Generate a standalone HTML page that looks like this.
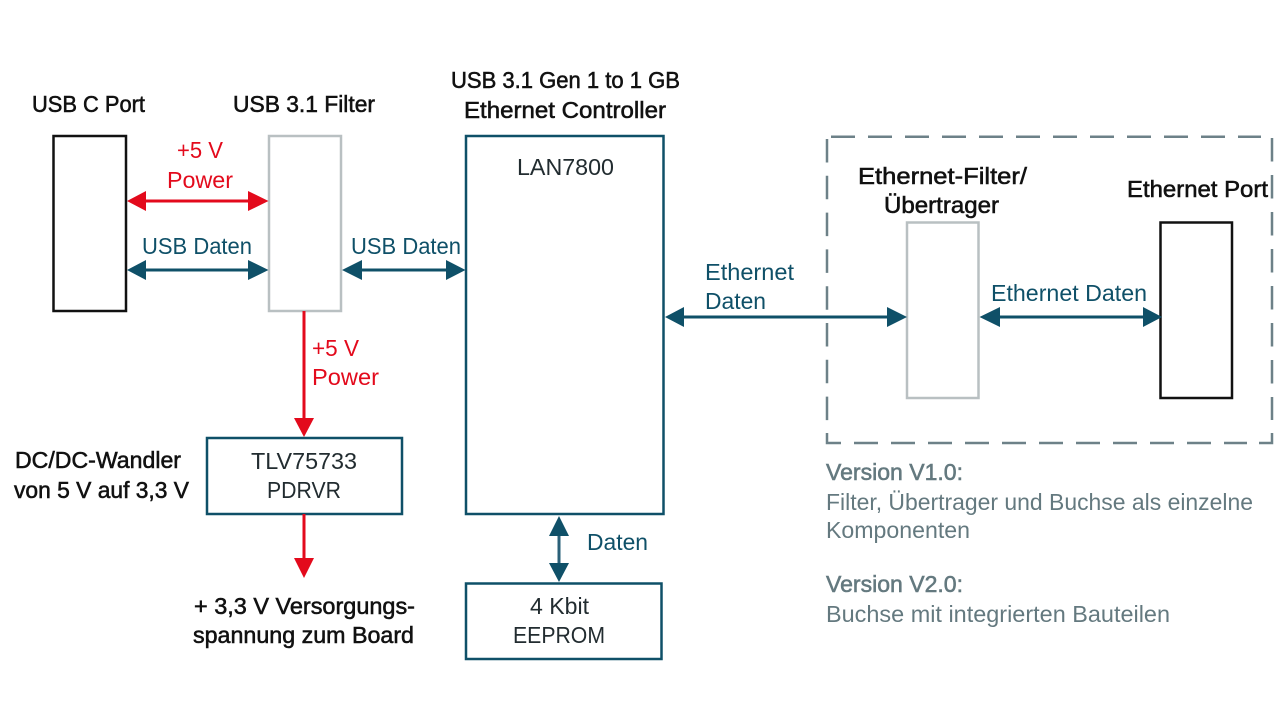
<!DOCTYPE html>
<html>
<head>
<meta charset="utf-8">
<style>
html,body{margin:0;padding:0;background:#fff;width:1280px;height:721px;overflow:hidden}
svg{display:block}
text{font-family:"Liberation Sans",sans-serif;font-size:23px}
.b{fill:#111;stroke:#111;stroke-width:.55px}
.t{fill:#0f5068}
.r{fill:#e30a1c}
.k{fill:#222c30}
.g{fill:#64797f}
.gb{fill:#64797f;stroke:#64797f;stroke-width:.55px}
</style>
</head>
<body>
<svg width="1280" height="721" viewBox="0 0 1280 721" xmlns="http://www.w3.org/2000/svg">
<rect width="1280" height="721" fill="#fff"/>

<!-- boxes -->
<rect x="53.500" y="136" width="72.500" height="175" fill="none" stroke="#111" stroke-width="2.500"/>
<rect x="269" y="136" width="72" height="175" fill="none" stroke="#b9c0c2" stroke-width="2.500"/>
<rect x="466" y="136" width="197.500" height="378" fill="none" stroke="#0f5068" stroke-width="2.500"/>
<rect x="207" y="438" width="195" height="76" fill="none" stroke="#0f5068" stroke-width="2.500"/>
<rect x="466" y="583.500" width="195.500" height="75.500" fill="none" stroke="#0f5068" stroke-width="2.500"/>
<rect x="907" y="222.500" width="71.500" height="175.500" fill="none" stroke="#b9c0c2" stroke-width="2.500"/>
<rect x="1160.500" y="222.500" width="71.500" height="175.500" fill="none" stroke="#111" stroke-width="2.500"/>

<!-- dashed group -->
<g fill="none" stroke="#6d8188" stroke-width="2.500">
<path d="M831 136.800H1261" stroke-dasharray="24 13"/>
<path d="M827 139V421" stroke-dasharray="23.500 13.300"/>
<path d="M1272 138V420" stroke-dasharray="23.500 13.500"/>
<path d="M854 443H1247" stroke-dasharray="24 13"/>
<path d="M827 433V443H841"/>
<path d="M1259 443H1272V433"/>
</g>

<!-- red connectors -->
<path d="M140 201H256" stroke="#e30a1c" stroke-width="3"/>
<path d="M127 201L146 191V211Z M268.500 201L248 191V211Z" fill="#e30a1c"/>
<path d="M304 311V425" stroke="#e30a1c" stroke-width="3"/>
<path d="M304 437L294 418H314Z" fill="#e30a1c"/>
<path d="M304 514V565" stroke="#e30a1c" stroke-width="3"/>
<path d="M304 578L294 558H314Z" fill="#e30a1c"/>

<!-- teal connectors -->
<g fill="#0f5068">
<path d="M140 270H256" stroke="#0f5068" stroke-width="3"/>
<path d="M127 270L146 260V280Z M268.500 270L248 260V280Z"/>
<path d="M354 270H453" stroke="#0f5068" stroke-width="3"/>
<path d="M342 270L362 260V280Z M465.500 270L446 260V280Z"/>
<path d="M678 317H893" stroke="#0f5068" stroke-width="3"/>
<path d="M665 317L684 307V327Z M907 317L887 307V327Z"/>
<path d="M992 317H1148" stroke="#0f5068" stroke-width="3"/>
<path d="M979.500 317L1000 307V327Z M1162 317L1143 307V327Z"/>
<path d="M559 530V570" stroke="#2a6078" stroke-width="3"/>
<path d="M559 516L549 536H569Z M559 582L549 563H569Z"/>
</g>

<!-- headings -->
<text class="b" x="32" y="112" textLength="113" lengthAdjust="spacingAndGlyphs">USB C Port</text>
<text class="b" x="233" y="112" textLength="142" lengthAdjust="spacingAndGlyphs">USB 3.1 Filter</text>
<text class="b" x="451" y="88" textLength="229" lengthAdjust="spacingAndGlyphs">USB 3.1 Gen 1 to 1 GB</text>
<text class="b" x="464" y="118" textLength="202" lengthAdjust="spacingAndGlyphs">Ethernet Controller</text>
<text class="b" x="858" y="184" textLength="169" lengthAdjust="spacingAndGlyphs">Ethernet-Filter/</text>
<text class="b" x="884" y="213" textLength="115" lengthAdjust="spacingAndGlyphs">Übertrager</text>
<text class="b" x="1127" y="197" textLength="141" lengthAdjust="spacingAndGlyphs">Ethernet Port</text>
<text class="b" x="15" y="468" textLength="166" lengthAdjust="spacingAndGlyphs">DC/DC-Wandler</text>
<text class="b" x="14" y="498" textLength="175" lengthAdjust="spacingAndGlyphs">von 5 V auf 3,3 V</text>
<text class="b" x="194" y="614" textLength="221" lengthAdjust="spacingAndGlyphs">+ 3,3 V Versorgungs-</text>
<text class="b" x="193" y="643" textLength="221" lengthAdjust="spacingAndGlyphs">spannung zum Board</text>

<!-- red labels -->
<text class="r" x="177" y="158" textLength="46" lengthAdjust="spacingAndGlyphs">+5 V</text>
<text class="r" x="167" y="188" textLength="66" lengthAdjust="spacingAndGlyphs">Power</text>
<text class="r" x="312" y="356" textLength="47" lengthAdjust="spacingAndGlyphs">+5 V</text>
<text class="r" x="312" y="385" textLength="67" lengthAdjust="spacingAndGlyphs">Power</text>

<!-- teal labels -->
<text class="t" x="142" y="254" textLength="110" lengthAdjust="spacingAndGlyphs">USB Daten</text>
<text class="t" x="351" y="254" textLength="110" lengthAdjust="spacingAndGlyphs">USB Daten</text>
<text class="t" x="705" y="280" textLength="89" lengthAdjust="spacingAndGlyphs">Ethernet</text>
<text class="t" x="705" y="309" textLength="61" lengthAdjust="spacingAndGlyphs">Daten</text>
<text class="t" x="991" y="301" textLength="156" lengthAdjust="spacingAndGlyphs">Ethernet Daten</text>
<text class="t" x="587" y="550" textLength="61" lengthAdjust="spacingAndGlyphs">Daten</text>

<!-- component text -->
<text class="k" x="517" y="175" textLength="97" lengthAdjust="spacingAndGlyphs">LAN7800</text>
<text class="k" x="251" y="469" textLength="106" lengthAdjust="spacingAndGlyphs">TLV75733</text>
<text class="k" x="267" y="498" textLength="74" lengthAdjust="spacingAndGlyphs">PDRVR</text>
<text class="k" x="530" y="614" textLength="59" lengthAdjust="spacingAndGlyphs">4 Kbit</text>
<text class="k" x="513" y="643" textLength="92" lengthAdjust="spacingAndGlyphs">EEPROM</text>

<!-- notes -->
<text class="gb" x="826" y="480" textLength="137" lengthAdjust="spacingAndGlyphs">Version V1.0:</text>
<text class="g" x="826" y="510" textLength="427" lengthAdjust="spacingAndGlyphs">Filter, Übertrager und Buchse als einzelne</text>
<text class="g" x="826" y="538" textLength="144" lengthAdjust="spacingAndGlyphs">Komponenten</text>
<text class="gb" x="826" y="592" textLength="137" lengthAdjust="spacingAndGlyphs">Version V2.0:</text>
<text class="g" x="826" y="622" textLength="344" lengthAdjust="spacingAndGlyphs">Buchse mit integrierten Bauteilen</text>
</svg>
</body>
</html>
